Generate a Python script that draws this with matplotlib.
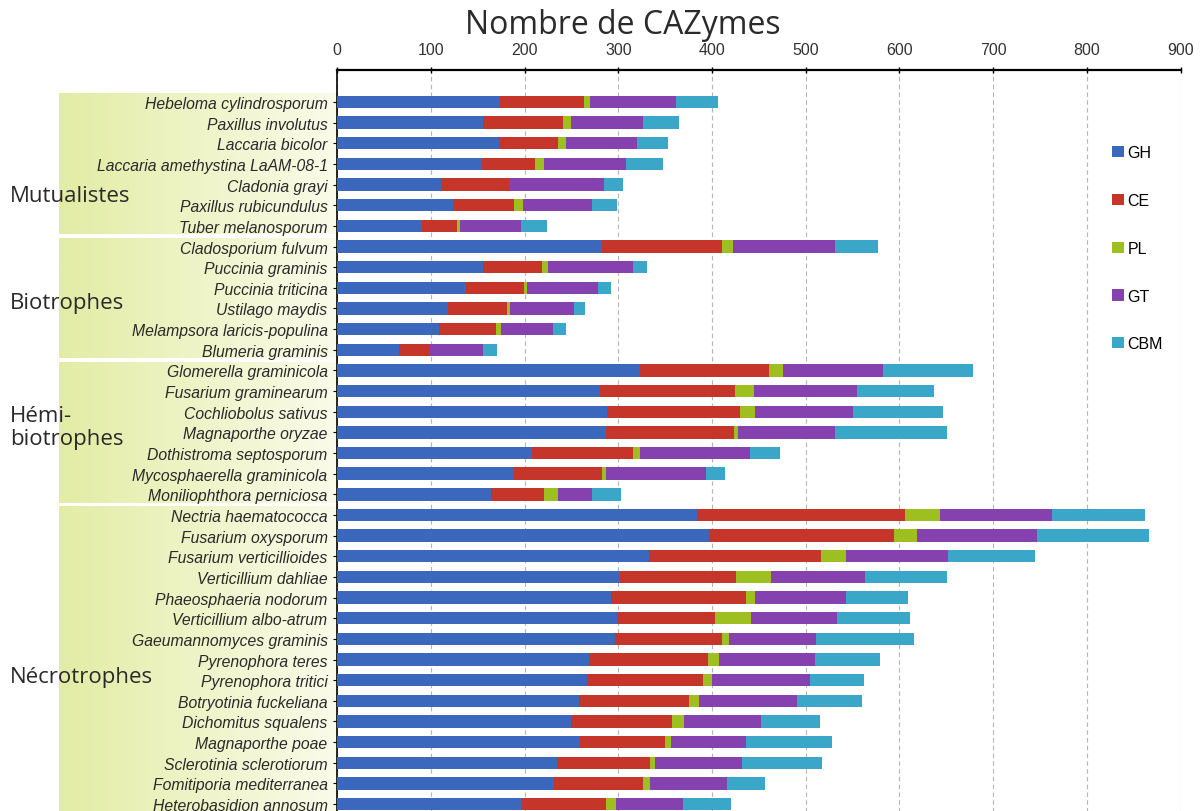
import numpy as np
import matplotlib
matplotlib.use("Agg")
import matplotlib.pyplot as plt
import matplotlib.transforms as mtransforms
from matplotlib.colors import LinearSegmentedColormap

# data
species = ["Hebeloma cylindrosporum", "Paxillus involutus", "Laccaria bicolor",
           "Laccaria amethystina LaAM-08-1", "Cladonia grayi", "Paxillus rubicundulus",
           "Tuber melanosporum",
           "Cladosporium fulvum", "Puccinia graminis", "Puccinia triticina",
           "Ustilago maydis", "Melampsora laricis-populina", "Blumeria graminis",
           "Glomerella graminicola", "Fusarium graminearum", "Cochliobolus sativus",
           "Magnaporthe oryzae", "Dothistroma septosporum", "Mycosphaerella graminicola",
           "Moniliophthora perniciosa",
           "Nectria haematococca", "Fusarium oxysporum", "Fusarium verticillioides",
           "Verticillium dahliae", "Phaeosphaeria nodorum", "Verticillium albo-atrum",
           "Gaeumannomyces graminis", "Pyrenophora teres", "Pyrenophora tritici",
           "Botryotinia fuckeliana", "Dichomitus squalens", "Magnaporthe poae",
           "Sclerotinia sclerotiorum", "Fomitiporia mediterranea", "Heterobasidion annosum"]

gh = [174, 155, 173, 154, 111, 123, 90,
      283, 155, 137, 118, 109, 66,
      323, 280, 288, 287, 208, 189, 164,
      384, 397, 333, 302, 292, 299, 296, 269, 266, 258, 249, 259, 235, 231, 197]
ce = [89, 86, 63, 57, 72, 66, 38,
      128, 64, 62, 63, 60, 32,
      138, 144, 142, 136, 108, 94, 57,
      222, 197, 183, 124, 144, 104, 115, 127, 124, 117, 108, 91, 99, 95, 90]
pl = [7, 8, 8, 10, 0, 9, 3,
      11, 6, 3, 3, 6, 0,
      15, 21, 16, 5, 7, 4, 15,
      37, 25, 27, 37, 10, 38, 7, 11, 10, 11, 13, 6, 5, 8, 10]
gt = [92, 77, 76, 87, 102, 74, 65,
      109, 91, 76, 69, 55, 58,
      106, 110, 104, 103, 117, 107, 36,
      120, 128, 109, 100, 97, 92, 93, 103, 105, 105, 82, 80, 93, 82, 72]
cbm = [44, 39, 33, 40, 20, 27, 28,
       46, 15, 14, 11, 14, 14,
       96, 82, 96, 120, 32, 20, 31,
       99, 119, 93, 88, 66, 78, 104, 69, 57, 69, 63, 92, 85, 40, 51]

families = ["GH", "CE", "PL", "GT", "CBM"]
fam_colors = ["#3b67bd", "#c5352a", "#9dbf1f", "#8542ae", "#3aa6c8"]

groups = ["Mutualistes", "Biotrophes", "Hémi-\nbiotrophes", "Nécrotrophes"]
group_sizes = [7, 6, 7, 15]

# where each group name sits, in rows from the group's first row
group_label_off = [4.55, 2.7, 2.75, 7.8]

font_ui = ["Open Sans", "DejaVu Sans"]
font_ar = ["Liberation Sans", "DejaVu Sans"]

fig = plt.figure(figsize=(12.02, 8.12), dpi=100)
ax = fig.add_axes([0.2806, -0.0296, 0.7016, 0.9422])

y = np.arange(len(species))
left = np.zeros(len(species))
for name, vals, col in zip(families, [gh, ce, pl, gt, cbm], fam_colors):
    vals = np.array(vals, dtype=float)
    ax.barh(y, vals, left=left, height=0.6, color=col, label=name, zorder=3)
    left += vals

# pale green bands behind the species names
cmap = LinearSegmentedColormap.from_list("band", ["#e3eca4", "#eff4c8", "#fafbe9"])
grad = np.linspace(0, 1, 256).reshape(1, -1)
trans = mtransforms.blended_transform_factory(fig.transFigure, ax.transData)
start = 0
for g, n, off in zip(groups, group_sizes, group_label_off):
    im = ax.imshow(grad, cmap=cmap, aspect="auto", zorder=0,
                   extent=(-297, 0, start + n - 0.5 - 0.1, start - 0.5 + 0.1))
    im.set_clip_on(False)
    fig.text(10 / 1202, start + off, g, fontsize=16, color="#2a2a2a", family=font_ui,
             va="center", ha="left", linespacing=1.15, transform=trans)
    start += n

ax.set_xlim(0, 900)
ax.set_ylim(35.5, -1.55)

ax.xaxis.tick_top()
ax.set_xticks(range(0, 1000, 100))
ax.tick_params(axis="x", labelsize=11.5, labelcolor="#333333", length=4,
               direction="inout", width=1, pad=7)
ax.set_yticks(y, labels=species)
for lab in ax.get_yticklabels():
    lab.set_fontstyle("italic")
    lab.set_family(font_ar)
ax.tick_params(axis="y", labelsize=11.3, labelcolor="#2a2a2a", length=3,
               width=0.8, pad=4)
for lab in ax.get_xticklabels():
    lab.set_family(font_ar)

ax.grid(axis="x", color="#b5b5b5", linestyle=(0, (4, 3)), linewidth=0.8, zorder=1)
ax.set_axisbelow(True)
for s in ["right", "bottom"]:
    ax.spines[s].set_visible(False)
ax.spines["top"].set_linewidth(1.6)
ax.spines["left"].set_linewidth(1.2)
ax.patch.set_alpha(0)

fig.text(0.518, 1 - 26 / 812, "Nombre de CAZymes", fontsize=23, color="#2a2a2a",
         family=font_ui, ha="center", va="center")

ax.legend(loc="upper left", bbox_to_anchor=(1098 / 1202, 1 - 132 / 812),
          bbox_transform=fig.transFigure, frameon=False,
          handlelength=0.7, handleheight=0.7, handletextpad=0.25,
          labelspacing=2.05, prop={"family": font_ar, "size": 11.5})

fig.savefig("out.png", dpi=100)
